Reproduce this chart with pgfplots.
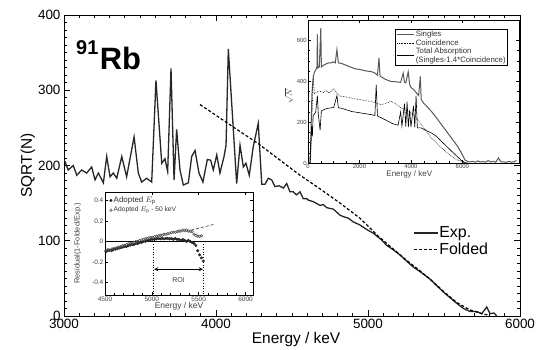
\documentclass[border=0pt]{standalone}
\usepackage{fontspec}
\setmainfont{Liberation Sans}
\usepackage{pgfplots}
\pgfplotsset{compat=1.18}
\pgfplotsset{every axis/.append style={/pgf/number format/1000 sep={}, /pgf/number format/assume math mode=true}}
\begin{document}
\begin{tikzpicture}
\useasboundingbox (0bp,0bp) rectangle (538bp,350bp);
% ---------------- main axis ----------------
\begin{axis}[at={(64bp,34bp)}, anchor=south west, width=456bp, height=301bp, scale only axis,
  xmin=3000, xmax=6000, ymin=0, ymax=400,
  xtick={3000,4000,5000,6000}, ytick={0,100,200,300,400},
  minor x tick num=9, minor y tick num=9,
  tick align=inside, major tick length=6bp, minor tick length=3bp,
  tick style={black, line width=0.7bp}, axis line style={line width=1bp},
  ticklabel style={font=\fontsize{13.5}{15}\selectfont},
  xlabel={Energy / keV}, ylabel={SQRT(N)},
  label style={font=\fontsize{15.5}{17}\selectfont},
  xlabel style={at={(axis description cs:0.509,-0.0897)}, anchor=base},
  ylabel style={at={(axis description cs:-0.0702,0.5)}, anchor=base},
  legend style={at={(0.765,0.30)}, anchor=north west, draw=none, fill=none,
    font=\fontsize{16}{17.6}\selectfont, inner sep=0pt, row sep=1.5bp,
    nodes={inner sep=1bp}},
  legend cell align=left,
  legend image code/.code={\draw[#1] (0bp,0bp) -- (24bp,0bp);},
]
\addplot[black!85, line width=1.3bp] coordinates {
(3000,207)(3007,205)(3028,194)(3061,200)(3084,187)(3116,194)(3149,190)(3182,198)
(3204,181)(3226,190)(3259,177)(3281,212)(3303,185)(3324,190)(3347,183)(3380,212)
(3412,185)(3461,238)(3489,190)(3511,178)(3544,183)(3577,178)(3605,313)(3643,203)
(3664,209)(3682,192)(3704,329)(3724,181)(3741,248)(3763,194)(3785,174)(3818,177)
(3840,212)(3862,220)(3888,190)(3914,178)(3943,208)(3965,207)(3982,194)(4005,214)
(4026,190)(4053,212)(4066,227)(4081,355)(4136,176)(4158,227)(4180,198)(4197,203)
(4219,187)(4245,225)(4278,256)(4301,175)(4322,175)(4344,183)(4366,181)(4388,172)
(4416,173)(4443,170)(4465,176)(4487,165)(4508,165)(4530,161)(4553,165)(4574,156)
(4597,156)(4607,154)(4640,152)(4684,147)(4706,148)(4728,144)(4772,142)(4816,134)
(4838,132)(4871,130)(4903,125)(4947,121)(4991,115)(5035,110)(5090,101)(5122,94)
(5166,88)(5211,81)(5254,73)(5298,65)(5342,59)(5408,49)(5495,32)(5583,17)
(5627,10)(5671,6)(5715,6)(5748,3)(5781,12)(5803,3)(5829,4)(5847,0)
};
\addlegendentry{Exp.}
\addplot[black, line width=1.2bp, dash pattern=on 3bp off 2bp] coordinates {
(3895,281)(4100,253)(4278,229)(4553,187)(4684,169)(4816,150)(4947,130)(5068,106)
(5166,89)(5254,74)(5342,60)(5408,49)(5495,33)(5583,18)(5671,8)(5750,3)(5800,1)
};
\addlegendentry{Folded}
\end{axis}
\node[anchor=base west, inner sep=0pt] at (76bp,280bp)
  {\bfseries\fontsize{20}{20}\selectfont\raisebox{15bp}{91}\hspace{1.5bp}\fontsize{31}{31}\selectfont Rb};
% ---------------- inset 1 ----------------
\begin{axis}[at={(308bp,187bp)}, anchor=south west, width=211bp, height=143bp, scale only axis,
  axis background/.style={fill=white},
  xmin=0, xmax=8200, ymin=0, ymax=700,
  xtick={0,2000,4000,6000}, ytick={0,200,400,600},
  minor x tick num=3, minor y tick num=3,
  tick align=inside, major tick length=3bp, minor tick length=1.5bp,
  tick style={black, line width=0.5bp}, axis line style={line width=0.7bp},
  ticklabel style={font=\fontsize{6}{7}\selectfont, inner sep=1bp, text=black!75},
  xlabel={Energy / keV}, ylabel={$\sqrt{N}$},
  label style={font=\fontsize{8}{9}\selectfont, text=black!75},
  xlabel style={at={(axis description cs:0.48,-0.05)}, anchor=north, inner sep=0pt},
  ylabel style={at={(axis description cs:-0.07,0.47)}, anchor=south, inner sep=0pt},
  legend style={at={(0.948,0.937)}, anchor=north east, draw=black, line width=0.7bp, fill=white,
    font=\fontsize{7.8}{9}\selectfont, inner sep=1bp, row sep=-1bp,
    nodes={inner sep=1bp, text=black!80}, cells={align=left}},
  legend cell align=left,
  legend image code/.code={\draw[#1] (0bp,0bp) -- (17bp,0bp);},
]
\addplot[black!65, line width=1bp] coordinates {
(0,0)(80,0)(110,120)(150,330)(200,420)(250,445)(300,455)(350,470)(365,630)(380,465)
(440,470)(497,660)(520,470)(600,478)(700,485)(800,490)(900,490)(1000,495)(1060,490)
(1124,555)(1180,490)(1300,488)(1400,482)(1500,478)(1600,472)(1700,468)(1800,462)
(1900,460)(2000,458)(2100,455)(2200,452)(2300,450)(2400,448)(2500,446)(2600,440)
(2700,430)(2758,514)(2800,425)(2900,418)(3000,410)(3100,405)(3200,400)(3300,398)
(3400,398)(3500,396)(3600,395)(3700,440)(3750,395)(3800,392)(3895,446)(3950,385)
(4000,370)(4100,360)(4200,345)(4300,330)(4365,424)(4400,310)(4500,292)(4600,280)
(4700,265)(4800,252)(5000,220)(5200,186)(5400,152)(5600,118)(5800,84)(5961,50)
(6100,15)(6200,8)(6300,5)(6400,8)(6500,4)(6600,10)(6700,5)(6800,7)(6900,4)(7000,12)
(7100,5)(7200,8)(7300,4)(7400,25)(7500,5)(7600,6)(7700,3)(7800,8)(7900,4)(8000,6)(8100,12)
};
\addlegendentry{Singles}
\addplot[black, line width=0.6bp, densely dotted] coordinates {
(100,0)(150,200)(200,420)(250,340)(300,345)(400,350)(470,351)(600,345)(700,355)
(800,343)(900,350)(1000,365)(1100,345)(1255,327)(1400,325)(1647,319)(1800,315)
(2039,310)(2200,305)(2431,302)(2600,295)(2824,286)(3000,290)(3216,302)(3400,290)
(3608,270)(3800,258)(4000,245)(4200,220)(4392,189)(4600,156)(4784,124)(5000,97)
(5176,75)(5400,50)(5569,34)(5800,15)(5961,8)(6100,0)
};
\addlegendentry{Coincidence}
\addplot[black, line width=0.6bp] coordinates {
(0,0)(80,0)(110,100)(140,180)(170,130)(200,230)(250,240)(300,250)(365,330)(400,240)
(470,160)(520,255)(600,260)(700,265)(800,268)(900,270)(1000,272)(1124,330)(1180,270)
(1300,268)(1500,260)(1700,252)(1900,248)(2100,244)(2300,240)(2500,236)(2600,232)
(2650,384)(2700,230)(2900,218)(3100,205)(3300,192)(3500,185)(3600,250)(3650,180)
(3750,290)(3800,178)(3850,300)(3900,176)(3950,260)(4000,176)(4100,280)(4150,174)
(4200,330)(4250,172)(4300,172)(4392,172)(4500,165)(4600,158)(4784,148)(5000,130)
(5176,107)(5400,80)(5569,59)(5800,32)(5961,13)(6100,2)(6200,0)
};
\addlegendentry{Total Absorption\\(Singles-1.4*Coincidence)}
\end{axis}
% ---------------- inset 2 ----------------
\begin{axis}[at={(105bp,55bp)}, anchor=south west, width=148bp, height=103bp, scale only axis,
  axis background/.style={fill=white},
  xmin=4500, xmax=6080, ymin=-0.52, ymax=0.48,
  xtick={4500,5000,5500,6000}, ytick={-0.4,-0.2,0,0.2,0.4},
  yticklabel style={/pgf/number format/.cd, fixed, precision=1},
  minor x tick num=4, minor y tick num=1,
  tick align=inside, major tick length=3bp, minor tick length=1.5bp,
  tick style={black, line width=0.5bp}, axis line style={line width=0.8bp},
  ticklabel style={font=\fontsize{6.5}{7}\selectfont, inner sep=1.5bp, text=black!75},
  xlabel={Energy / keV}, ylabel={Residual(1-Folded/Exp.)},
  label style={text=black!75},
  xlabel style={font=\fontsize{8.5}{9}\selectfont, at={(axis description cs:0.5,-0.07)}, anchor=north, inner sep=0pt},
  ylabel style={font=\fontsize{7.5}{8}\selectfont, at={(axis description cs:-0.16,0.5)}, anchor=south, inner sep=0pt},
  legend style={at={(0.03,0.97)}, anchor=north west, draw=none, fill=none,
    inner sep=0pt, row sep=0pt, nodes={inner sep=1.5bp, text=black!80}},
  legend cell align=left,
]
\addplot[black!80, line width=0.6bp, densely dashed, forget plot] coordinates {(5420,0.11)(5660,0.165)};
\addplot[black, line width=0.7bp, forget plot] coordinates {(4500,0)(6080,0)};
\addplot[black, line width=0.6bp, dotted, forget plot] coordinates {(5020,0)(5020,-0.52)};
\addplot[black, line width=0.6bp, dotted, forget plot] coordinates {(5550,0)(5550,-0.52)};
\addplot[black, line width=0.8bp, <->, >=stealth, forget plot] coordinates {(5025,-0.27)(5545,-0.27)};
\node[font=\fontsize{7}{8}\selectfont, text=black!75] at (axis cs:5285,-0.375) {ROI};
\addplot[only marks, mark=*, mark size=1.3bp, black!85] coordinates {
(4510,-0.10)(4530,-0.09)(4550,-0.085)(4570,-0.09)(4590,-0.08)(4610,-0.075)(4630,-0.07)
(4650,-0.065)(4670,-0.06)(4690,-0.055)(4710,-0.05)(4730,-0.05)(4750,-0.04)(4770,-0.035)
(4790,-0.03)(4810,-0.03)(4830,-0.02)(4850,-0.02)(4870,-0.01)(4890,-0.01)(4910,0.0)
(4930,0.0)(4950,0.01)(4970,0.01)(4990,0.02)(5010,0.02)(5030,0.02)(5050,0.025)(5070,0.03)
(5090,0.025)(5110,0.03)(5130,0.025)(5150,0.03)(5170,0.03)(5190,0.025)(5210,0.03)
(5230,0.02)(5250,0.03)(5270,0.02)(5290,0.02)(5310,0.01)(5330,0.02)(5350,0.01)(5370,0.0)
(5390,0.01)(5410,0.0)(5430,-0.01)(5450,-0.02)(5470,-0.04)(5490,-0.09)(5510,-0.13)
(5530,-0.16)(5550,-0.19)
};
\addlegendentry{\fontsize{8}{9}\selectfont Adopted $E_{\mathrm{p}}$}
\addplot[only marks, mark=o, mark size=1.3bp, black!70, line width=0.5bp] coordinates {
(4510,-0.09)(4530,-0.08)(4550,-0.085)(4570,-0.075)(4590,-0.07)(4610,-0.065)(4630,-0.06)
(4650,-0.055)(4670,-0.05)(4690,-0.04)(4710,-0.04)(4730,-0.03)(4750,-0.025)(4770,-0.02)
(4790,-0.015)(4810,-0.01)(4830,0.0)(4850,0.0)(4870,0.01)(4890,0.015)(4910,0.02)
(4930,0.025)(4950,0.03)(4970,0.035)(4990,0.04)(5010,0.04)(5030,0.045)(5050,0.05)
(5070,0.055)(5090,0.06)(5110,0.06)(5130,0.07)(5150,0.07)(5170,0.075)(5190,0.08)
(5210,0.085)(5230,0.09)(5250,0.09)(5270,0.095)(5290,0.1)(5310,0.1)(5330,0.11)
(5350,0.105)(5370,0.11)(5390,0.1)(5410,0.1)(5430,0.095)(5450,0.07)(5470,0.06)
(5490,0.05)(5510,0.05)(5530,0.055)
};
\addlegendentry{\fontsize{6.7}{8}\selectfont Adopted $E_{\mathrm{p}}$ - 50 keV}
\end{axis}
\end{tikzpicture}
\end{document}
